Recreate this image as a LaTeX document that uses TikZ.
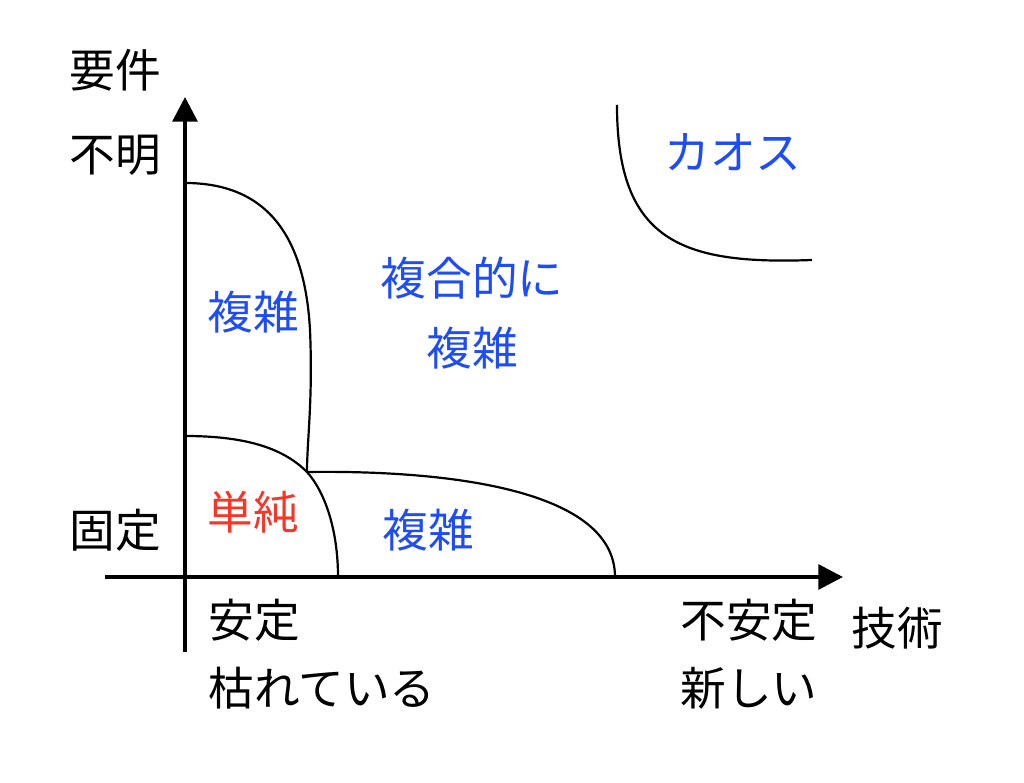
\documentclass[tikz,border=0pt]{standalone}
\usepackage{fontspec}
\setmainfont{Noto Sans CJK JP}
\usepackage{xcolor}
\usepackage{tikz}
\usetikzlibrary{arrows.meta}
\definecolor{zoneblue}{HTML}{1F4DF5}
\definecolor{zonered}{HTML}{F5372A}
\tikzset{
  axisline/.style={line width=2.3pt, -{Triangle[length=14pt,width=14pt]}},
  zoneline/.style={line width=1.25pt},
  lbl/.style={font=\fontsize{26}{29}\selectfont, inner sep=0pt},
}

\begin{document}
\begin{tikzpicture}[x=0.02cm, y=-0.02cm]
   \useasboundingbox (0,0) rectangle (1024,783);
   \coordinate (O1) at (105,577);
   \coordinate (X1) at (843,577);
   \coordinate (O2) at (185,652);
   \coordinate (Y1) at (185,97);
   \coordinate (J) at (307,472);

   \draw[axisline] (O1) -- (X1);
   \draw[axisline] (O2) -- (Y1);

   % regions
   \draw[zoneline] (185,183) .. controls (270,183) and (305,240) .. (310,330)
                             .. controls (313,400) and (307,440) .. (J);
   \draw[zoneline] (185,436) .. controls (250,436) and (285,450) .. (J)
                             .. controls (325,492) and (338,530) .. (338,577);
   \draw[zoneline] (J) .. controls (450,470) and (615,490) .. (615,577);
   \draw[zoneline] (617,105) .. controls (617,240) and (680,265) .. (812,260);

   \foreach \x/\y/\label/\name in {
     115/70/要件/req,
     115/155/不明/unclear,
     115/530/固定/fixed,
     897/628/技術/tech
   }{
     \node[lbl] (\name) at (\x,\y) {\label};
   }
   \foreach \x/\y/\label/\name in {
     208/620/安定/stable,
     208/688/枯れている/mature,
     680/620/不安定/unstable,
     680/688/新しい/new
   }{
     \node[lbl, anchor=west] (\name) at (\x,\y) {\label};
   }

   \node[lbl, text=zoneblue] (chaos) at (733,152) {カオス};
   \node[lbl, text=zoneblue] (multi) at (472,278) {複合的に};
   \node[lbl, text=zoneblue] (multib) at (472,348) {複雑};
   \node[lbl, text=zoneblue] (cplxreq) at (253,312) {複雑};
   \node[lbl, text=zoneblue] (cplxtech) at (428,530) {複雑};
   \node[lbl, text=zonered] (simple) at (253,512) {単純};
\end{tikzpicture}
\end{document}
